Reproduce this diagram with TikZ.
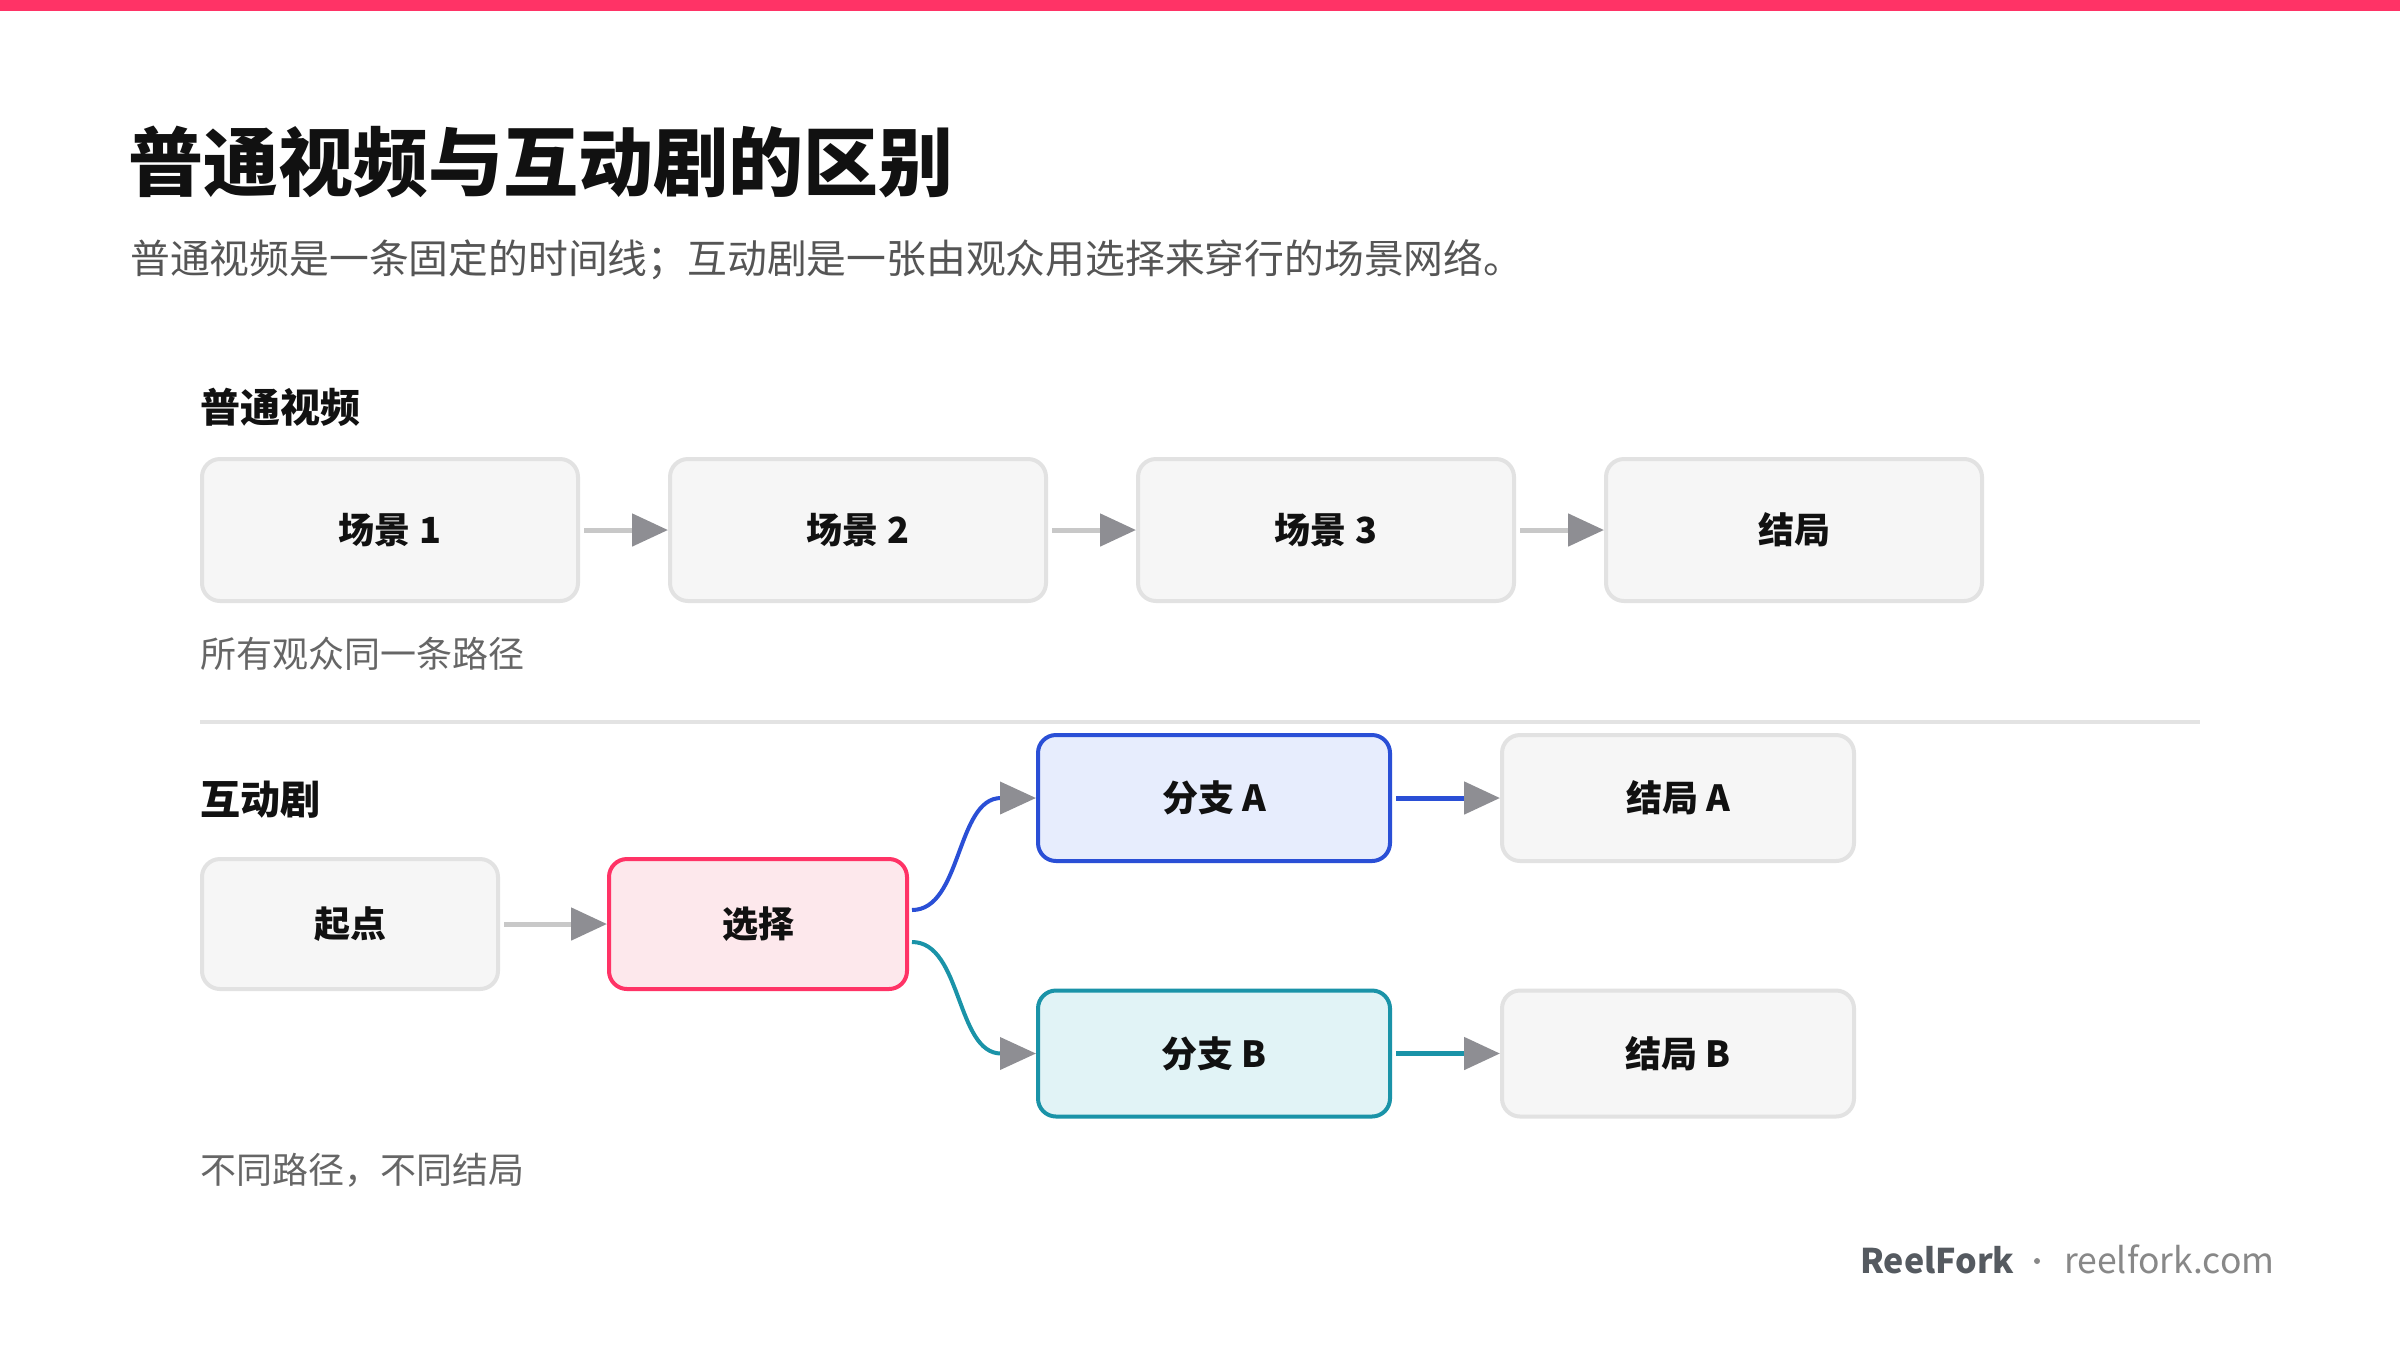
\documentclass[tikz,border=0pt]{standalone}
\usepackage{fontspec}
\setmainfont{Noto Sans CJK SC}
\usetikzlibrary{arrows.meta}
\definecolor{pinkc}{HTML}{FF3366}
\definecolor{boxfill}{HTML}{F6F6F6}
\definecolor{boxline}{HTML}{E2E2E2}
\definecolor{arrowgrey}{HTML}{8E8E93}
\definecolor{lineg}{HTML}{C8C8C8}
\definecolor{divc}{HTML}{E3E3E3}
\definecolor{bluec}{HTML}{2A4FD6}
\definecolor{bluefill}{HTML}{E7EDFD}
\definecolor{tealc}{HTML}{1A93A8}
\definecolor{tealfill}{HTML}{E1F3F6}
\definecolor{pinkfill}{HTML}{FDE8EC}
\definecolor{titlec}{HTML}{111111}
\definecolor{subc}{HTML}{555555}
\definecolor{notec}{HTML}{666666}
\definecolor{brandc}{HTML}{555A60}
\definecolor{urlc}{HTML}{888888}
\begin{document}
\begin{tikzpicture}[x=1pt,y=-1pt,
  gbox/.style={draw=boxline, fill=boxfill, line width=4pt, rounded corners=18pt,
    inner sep=0pt, text=titlec, font=\fontsize{36}{40}\selectfont\bfseries},
  topbox/.style={gbox, minimum width=376pt, minimum height=142pt},
  botbox/.style={gbox, minimum width=352pt, minimum height=126pt},
  flow/.style={line width=5pt, draw=lineg, shorten <=4pt,
    -{Triangle[length=36pt, width=32pt, color=arrowgrey]}},
  txt/.style={anchor=west, inner sep=0pt}
]
\path[use as bounding box, fill=white] (0,0) rectangle (2400,1350);
\fill[pinkc] (0,0) rectangle (2400,11);

\node[txt, text=titlec, font=\fontsize{75}{80}\selectfont\bfseries] (title) at (128,162) {普通视频与互动剧的区别};
\node[txt, text=subc, font=\fontsize{39.8}{44}\selectfont] (sub) at (130,260) {普通视频是一条固定的时间线；互动剧是一张由观众用选择来穿行的场景网络。};

\node[txt, text=titlec, font=\fontsize{40}{44}\selectfont\bfseries] (lab1) at (200,407) {普通视频};
\node[topbox] (s1) at (390,530) {场景 1};
\node[topbox] (s2) at (858,530) {场景 2};
\node[topbox] (s3) at (1326,530) {场景 3};
\node[topbox] (s4) at (1794,530) {结局};
\draw[flow] (s1) -- (s2);
\draw[flow] (s2) -- (s3);
\draw[flow] (s3) -- (s4);
\node[txt, text=notec, font=\fontsize{36}{40}\selectfont] (note1) at (200,654) {所有观众同一条路径};

\coordinate (dl) at (200,722);
\coordinate (dr) at (2200,722);
\draw[line width=4pt, divc] (dl) -- (dr);

\node[txt, text=titlec, font=\fontsize{40}{44}\selectfont\bfseries] (lab2) at (200,800) {互动剧};
\node[gbox, minimum width=296pt, minimum height=130pt] (start) at (350,924) {起点};
\node[gbox, draw=pinkc, fill=pinkfill, minimum width=298pt, minimum height=130pt] (choose) at (758,924) {选择};
\node[botbox, draw=bluec, fill=bluefill] (bA) at (1214,798) {分支 A};
\node[botbox] (eA) at (1678,798) {结局 A};
\node[botbox, draw=tealc, fill=tealfill] (bB) at (1214,1053.5) {分支 B};
\node[botbox] (eB) at (1678,1053.5) {结局 B};

\draw[flow] (start) -- (choose);
\draw[flow, draw=bluec, line width=4pt, shorten <=0pt] ([shift={(3,-14)}]choose.east) .. controls +(50,0) and +(-80,0) .. (bA.west);
\draw[flow, draw=tealc, line width=4pt, shorten <=0pt] ([shift={(3,18)}]choose.east) .. controls +(50,0) and +(-80,0) .. (bB.west);
\draw[flow, draw=bluec] (bA) -- (eA);
\draw[flow, draw=tealc] (bB) -- (eB);

\node[txt, text=notec, font=\fontsize{36}{40}\selectfont] (note2) at (200,1170) {不同路径，不同结局};

\node[anchor=base west, inner sep=0pt, text=brandc, font=\fontsize{34}{40}\selectfont\bfseries] (brand) at (1860,1273) {ReelFork};
\node[circle, fill=urlc, inner sep=0pt, minimum size=6pt] (dot) at (2037,1261) {};
\node[anchor=base west, inner sep=0pt, text=urlc, font=\fontsize{35.5}{40}\selectfont] (url) at (2064,1273) {reelfork.com};
\end{tikzpicture}
\end{document}
